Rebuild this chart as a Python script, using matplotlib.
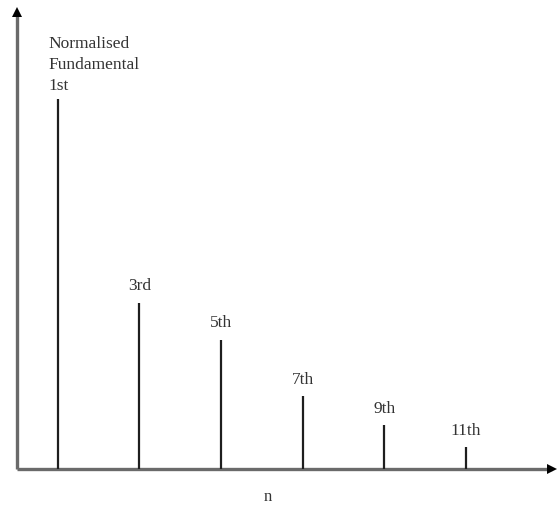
import numpy as np
from matplotlib import pyplot as plt

# harmonic order and normalised amplitude
harmonics = [1, 3, 5, 7, 9, 11]
amplitudes = [1.0, 0.449, 0.349, 0.197, 0.119, 0.059]
labels = ["1st", "3rd", "5th", "7th", "9th", "11th"]

plt.rcParams['font.family'] = ['Liberation Serif', 'DejaVu Serif']

fig = plt.figure(figsize=(5.59, 5.06), dpi=100)
ax = fig.add_axes([0, 0, 1, 1])
ax.set_xlim(-0.417, 13.28)
ax.set_ylim(-0.0973, 1.270)
ax.axis('off')

# axes: grey shafts with small black heads
ytop, xend = 1.235, 13.12
ax.plot([0, 0], [0, ytop], color='#6a6a6a', lw=2.4, solid_capstyle='butt')
ax.plot([0, xend], [0, 0], color='#6a6a6a', lw=2.4, solid_capstyle='butt')
ax.plot(0, ytop, marker='^', color='black', ms=7, mew=0)
ax.plot(xend, 0, marker='>', color='black', ms=7, mew=0)

# spectral lines
ax.vlines(harmonics, 0, amplitudes, colors='#1e1e1e', lw=1.6)

for h, a, lab in zip(harmonics, amplitudes, labels):
    if h == 1:
        continue
    ax.annotate(lab, xy=(h, a), xytext=(0, 12.5), textcoords='offset points',
                ha='center', va='center', fontsize=12.5, color='#333333')

ax.text(0.76, 1.173, "Normalised\nFundamental\n1st", ha='left', va='top',
        fontsize=12.5, color='#333333', linespacing=1.42)

ax.text(6.15, -0.072, "n", ha='center', va='center', fontsize=12, color='#333333')

fig.savefig('out.png', dpi=100)
